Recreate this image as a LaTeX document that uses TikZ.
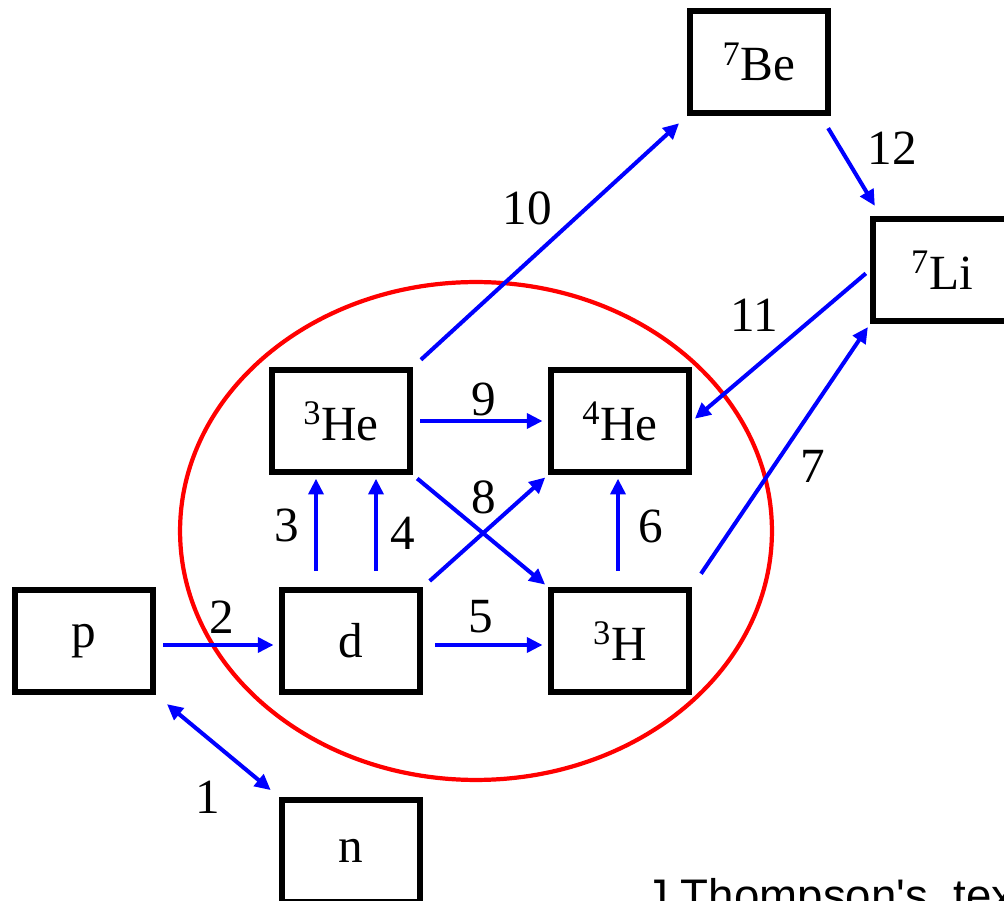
\documentclass[tikz,border=0pt]{standalone}
\usepackage{fontspec}
\setmainfont{Liberation Serif}
\newfontfamily\notefont{Liberation Sans}
\usetikzlibrary{arrows.meta, calc, shapes.geometric}
\definecolor{cInk}{HTML}{000000}
\definecolor{cRx}{HTML}{0000FF}
\definecolor{cZone}{HTML}{FF0000}
\newcommand{\iso}[2]{\textsuperscript{#1}#2}
\tikzset{
  nucl/.style={rectangle, draw=cInk, line width=3.6pt, minimum width=2.76cm,
               minimum height=2.04cm, inner sep=0pt, font=\fontsize{28}{30}\selectfont},
  rx/.style={-{Triangle[length=9pt, width=8.5pt]}, line width=2.3pt, draw=cRx,
             shorten <=4pt, shorten >=3pt},
  rxx/.style={rx, {Triangle[length=9pt, width=8.5pt]}-{Triangle[length=9pt, width=8.5pt]}},
  num/.style={font=\fontsize{28}{30}\selectfont, text=cInk, inner sep=0pt},
  zone/.style={ellipse, draw=cZone, line width=2.4pt, minimum width=11.84cm,
               minimum height=9.96cm, inner sep=0pt},
}

\begin{document}
\begin{tikzpicture}[x=0.02cm, y=-0.02cm]
  \useasboundingbox (0,0) rectangle (1004,901);

  % ---- the region of the light nuclei
  \node[zone] (zone) at (476,531) {};

  % ---- nuclei
  \node[nucl] (p)   at (84,641)  {p};
  \node[nucl] (n)   at (351,851) {n};
  \node[nucl] (d)   at (351,641) {d};
  \node[nucl] (H3)  at (620,641) {\iso{3}{H}};
  \node[nucl] (He3) at (341,421) {\iso{3}{He}};
  \node[nucl] (He4) at (620,421) {\iso{4}{He}};
  \node[nucl] (Be7) at (759,62)  {\iso{7}{Be}};
  \node[nucl] (Li7) at (942,270) {\iso{7}{Li}};

  \coordinate (d3) at ($(d.north)+(-35,0)$);
  \coordinate (d4) at ($(d.north)+(25,0)$);

  % ---- reactions
  \draw[rxx, shorten <=8pt, shorten >=6pt] (p.south east) -- (n.north west);
  \draw[rx] ([yshift=-0.08cm]p.east) -- ([yshift=-0.08cm]d.west);
  \draw[rx, shorten <=9pt, shorten >=2pt] (d3) -- (d3 |- He3.south);
  \draw[rx, shorten <=9pt, shorten >=2pt] (d4) -- (d4 |- He3.south);
  \draw[rx, shorten <=7pt] ([yshift=-0.08cm]d.east) -- ([yshift=-0.08cm]H3.west);
  \draw[rx, shorten <=9pt, shorten >=2pt] ([xshift=-0.04cm]H3.north) -- ([xshift=-0.04cm]He4.south);
  \draw[rx, shorten <=9pt, shorten >=2pt] (H3.north east) -- (Li7.south west);
  \draw[rx, shorten <=5pt, shorten >=2pt] (d.north east) -- (He4.south west);
  \draw[rx, shorten <=3pt, shorten >=2pt] (He3.south east) -- (H3.north west);
  \draw[rx, shorten >=3pt] (He3.east) -- (He4.west);
  \draw[rx, shorten <=6pt, shorten >=6pt] (He3.north east) -- (Be7.south west);
  \draw[rx, shorten <=3pt, shorten >=2pt] (Li7.west) -- (He4.east);
  \draw[rx, shorten <=0pt, shorten >=0pt] ($(Be7.south east)+(-3,12)$) -- ($(Li7.north west)+(5,-10)$);

  % ---- reaction numbers
  \node[num] (l1)  at (208,797) {1};
  \node[num] (l2)  at (222,617) {2};
  \node[num] (l3)  at (287,525) {3};
  \node[num] (l4)  at (403,533) {4};
  \node[num] (l5)  at (481,617) {5};
  \node[num] (l6)  at (651,526) {6};
  \node[num] (l7)  at (813,466) {7};
  \node[num] (l8)  at (484,497) {8};
  \node[num] (l9)  at (484,399) {9};
  \node[num] (l10) at (527,208) {10};
  \node[num] (l11) at (754,315) {11};
  \node[num] (l12) at (892,148) {12};

  % ---- source note (cut by the frame)
  \node[anchor=base west, inner sep=0pt, font=\notefont\fontsize{26}{28}\selectfont] (note)
       at (645,911) {J Thompson's\ \ text};
\end{tikzpicture}
\end{document}
